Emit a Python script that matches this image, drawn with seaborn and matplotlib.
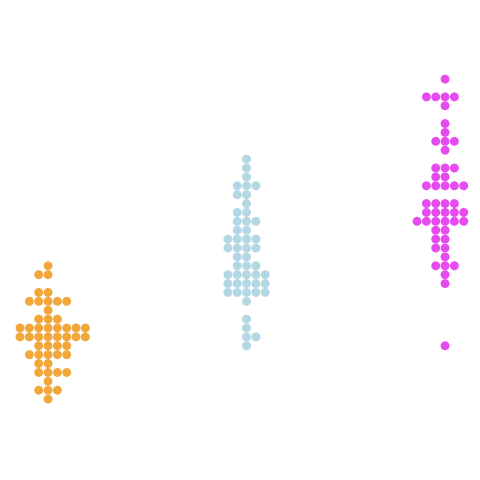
import pandas as pd
import matplotlib
matplotlib.use("Agg")
import matplotlib.pyplot as plt
import seaborn as sns

# sepal length values and how many flowers have each value
species = ["setosa", "versicolor", "virginica"]

setosa_vals = [4.3, 4.4, 4.5, 4.6, 4.7, 4.8, 4.9, 5.0, 5.1, 5.2, 5.3, 5.4, 5.5, 5.7, 5.8]
setosa_counts = [1, 3, 1, 4, 2, 5, 4, 8, 8, 3, 1, 5, 2, 2, 1]

versicolor_vals = [4.9, 5.0, 5.1, 5.2, 5.4, 5.5, 5.6, 5.7, 5.8, 5.9, 6.0, 6.1, 6.2,
                   6.3, 6.4, 6.5, 6.6, 6.7, 6.8, 6.9, 7.0]
versicolor_counts = [1, 2, 1, 1, 1, 5, 5, 5, 3, 2, 4, 4, 2, 3, 2, 1, 2, 3, 1, 1, 1]

virginica_vals = [4.9, 5.6, 5.7, 5.8, 5.9, 6.0, 6.1, 6.2, 6.3, 6.4, 6.5, 6.7, 6.8,
                  6.9, 7.1, 7.2, 7.3, 7.4, 7.6, 7.7, 7.9]
virginica_counts = [1, 1, 1, 3, 1, 2, 2, 2, 6, 5, 4, 5, 2, 3, 1, 3, 1, 1, 1, 4, 1]

colors = ["#F2A73B", "#B3D7E3", "#E64BF0"]

# build long table
rows = []
for name, vals, counts in [("setosa", setosa_vals, setosa_counts),
                           ("versicolor", versicolor_vals, versicolor_counts),
                           ("virginica", virginica_vals, virginica_counts)]:
    for v, c in zip(vals, counts):
        rows += [(name, v)] * c
df = pd.DataFrame(rows, columns=["species", "sepal_length"])

fig = plt.figure(figsize=(4.8, 4.8), dpi=100)
ax = fig.add_axes([0, 0, 1, 1])

sns.swarmplot(data=df, x="species", y="sepal_length", hue="species",
              order=species, hue_order=species, palette=colors,
              size=6.4, linewidth=0, legend=False, ax=ax)

ax.set_xlim(-0.242, 2.176)
ax.set_ylim(3.39, 8.79)
ax.axis("off")

fig.savefig("out.png", dpi=100)
